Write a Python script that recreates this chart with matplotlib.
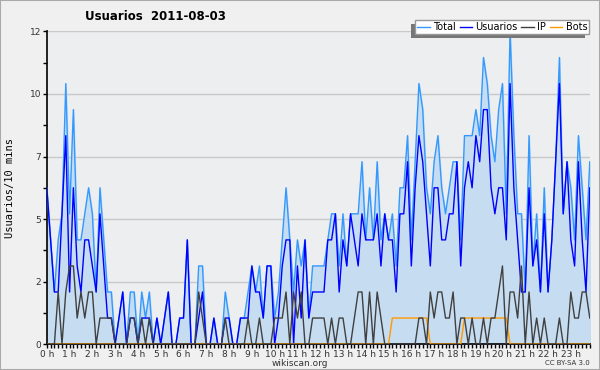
import matplotlib.pyplot as plt
from matplotlib.patches import Rectangle
import numpy as np

# 10-minute slots, 2011-08-03 (144 values)
total = [6, 4, 2, 4, 5, 10, 5, 9, 4, 4, 5, 6, 5, 2, 6, 4, 2, 2, 0, 1, 2, 0, 2, 2,
         0, 2, 1, 2, 0, 1, 0, 1, 2, 0, 0, 1, 1, 4, 0, 0, 3, 3, 0, 0, 1, 0, 0, 2,
         1, 0, 0, 1, 1, 2, 3, 2, 3, 1, 3, 3, 1, 2, 4, 6, 4, 2, 4, 3, 4, 1, 3, 3,
         3, 3, 4, 5, 5, 3, 5, 3, 5, 5, 5, 7, 4, 6, 4, 7, 4, 5, 4, 5, 3, 6, 6, 8,
         4, 7, 10, 9, 6, 5, 7, 8, 6, 5, 6, 7, 7, 4, 8, 8, 8, 9, 8, 11, 10, 8, 7, 9,
         10, 5, 12, 8, 5, 5, 2, 8, 3, 5, 2, 6, 2, 4, 7, 11, 5, 7, 6, 4, 8, 6, 4, 7]
usuarios = [6, 4, 2, 2, 5, 8, 2, 6, 3, 2, 4, 4, 3, 2, 5, 3, 1, 1, 0, 1, 2, 0, 1, 1,
            0, 1, 1, 1, 0, 1, 0, 1, 2, 0, 0, 1, 1, 4, 0, 0, 1, 2, 0, 0, 1, 0, 0, 1,
            1, 0, 0, 1, 1, 1, 3, 2, 2, 1, 3, 3, 0, 1, 3, 4, 4, 0, 3, 1, 4, 1, 2, 2,
            2, 2, 4, 4, 5, 2, 4, 3, 5, 4, 3, 5, 4, 4, 4, 5, 3, 5, 4, 4, 2, 5, 5, 7,
            3, 6, 8, 7, 5, 3, 6, 6, 4, 4, 5, 5, 7, 3, 6, 7, 6, 8, 7, 9, 9, 6, 5, 6,
            6, 4, 10, 6, 4, 2, 2, 6, 3, 4, 2, 5, 2, 4, 7, 10, 5, 7, 4, 3, 7, 4, 2, 6]
ip = [0, 0, 0, 2, 0, 2, 3, 3, 1, 2, 1, 2, 2, 0, 1, 1, 1, 1, 0, 0, 0, 0, 1, 1,
      0, 1, 0, 1, 0, 0, 0, 0, 0, 0, 0, 0, 0, 0, 0, 0, 2, 1, 0, 0, 0, 0, 0, 1,
      0, 0, 0, 0, 0, 1, 0, 0, 1, 0, 0, 0, 1, 1, 1, 2, 0, 2, 1, 2, 0, 0, 1, 1,
      1, 1, 0, 1, 0, 1, 1, 0, 0, 1, 2, 2, 0, 2, 0, 2, 1, 0, 0, 0, 0, 0, 0, 0,
      0, 0, 1, 1, 0, 2, 1, 2, 2, 1, 1, 2, 0, 1, 1, 0, 1, 0, 0, 1, 0, 1, 1, 2,
      3, 0, 2, 2, 1, 3, 0, 2, 0, 1, 0, 1, 0, 0, 0, 1, 0, 0, 2, 1, 1, 2, 2, 1]
bots = [0] * 91 + [1] * 10 + [0] * 9 + [1] * 12 + [0] * 22

hour_labels = ["%d h" % h for h in range(24)]
ytick_vals = [0, 2.4, 4.8, 7.2, 9.6, 12]
ytick_labels = ["0", "2", "5", "7", "10", "12"]

plt.rcParams['font.family'] = ['DejaVu Sans']

fig = plt.figure(figsize=(6, 3.7), dpi=100, facecolor='#f0f0f0')
fig.patches.append(Rectangle((0, 0), 1, 1, transform=fig.transFigure, fill=False,
                             edgecolor='#aaaaaa', linewidth=1.5))
ax = fig.add_axes([0.078, 0.070, 0.905, 0.845])
ax.set_facecolor('#edeef0')

x = np.arange(len(total))
ax.fill_between(x, total, color='#c6dcf0', zorder=1)
ax.plot(x, total, color='#3399ff', lw=1, label='Total', zorder=3)
ax.plot(x, usuarios, color='#0000ff', lw=1, label='Usuarios', zorder=4)
ax.plot(x, ip, color='#404040', lw=1, label='IP', zorder=5)
ax.plot(x, bots, color='#ff9900', lw=1, label='Bots', zorder=4)

ax.set_xlim(0, len(total) - 1)
ax.set_ylim(0, 12)
ax.set_yticks(ytick_vals)
ax.set_yticklabels(ytick_labels, fontsize=6.5, color='#333333')
ax.set_yticks(np.arange(1.2, 12, 2.4), minor=True)
ax.set_xticks(np.arange(0, 144, 6))
ax.set_xticklabels(hour_labels, fontsize=6.5, color='#333333')
ax.set_xticks(np.arange(0, 144), minor=True)
ax.tick_params(axis='both', which='both', direction='out', length=3, width=1, pad=1)
ax.grid(axis='y', color='#c8c8c8', lw=1, zorder=0)
ax.set_axisbelow(True)
for s in ['top', 'right']:
    ax.spines[s].set_visible(False)
ax.spines['left'].set_linewidth(1.2)
ax.spines['bottom'].set_linewidth(1.2)
ax.set_ylabel("Usuarios/10 mins", fontsize=7.5, family='DejaVu Sans Mono')
ax.yaxis.set_label_coords(-0.058, 0.5)

fig.text(85 / 600, 1 - 16 / 370, "Usuarios  2011-08-03", fontsize=8.5,
         fontweight='bold', va='center', ha='left')
fig.text(0.5, 1 - 363 / 370, "wikiscan.org", fontsize=6.5, ha='center', va='center',
         color='#333333')
fig.text(590 / 600, 1 - 363 / 370, "CC BY-SA 3.0", fontsize=5, ha='right',
         va='center', color='#333333')

leg = fig.legend(loc='upper right', bbox_to_anchor=(0.99, 0.958), ncol=4,
                 fontsize=7, frameon=True, fancybox=False, framealpha=1,
                 handlelength=1.3, handletextpad=0.35, columnspacing=0.35,
                 borderpad=0.2)
leg.get_frame().set_edgecolor('#999999')
leg.get_frame().set_facecolor('white')
leg.get_frame().set_linewidth(1)
leg.set_zorder(10)

# shadow to the lower left of the legend box
fig.canvas.draw()
bb = leg.get_frame().get_window_extent().transformed(fig.transFigure.inverted())
fig.patches.append(Rectangle((bb.x0 - 4 / 600, bb.y0 - 4 / 370), bb.width, bb.height,
                             transform=fig.transFigure, facecolor='#777777',
                             edgecolor='none', zorder=9))

fig.savefig("out.png", dpi=100, facecolor=fig.get_facecolor())
